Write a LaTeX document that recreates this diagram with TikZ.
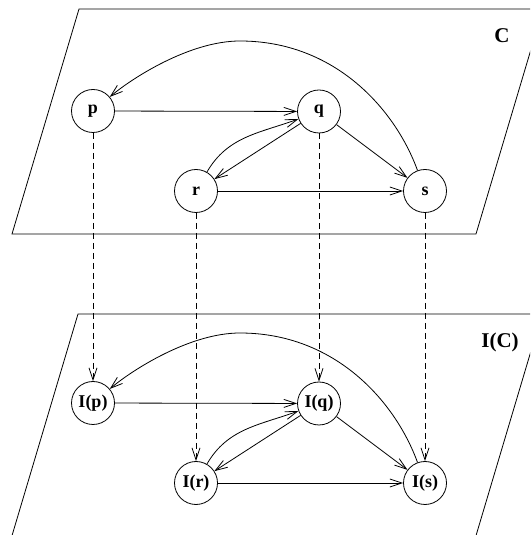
\documentclass[tikz,border=0pt]{standalone}
\usepackage{fontspec}
\setmainfont{Liberation Serif}
\usepackage{tikz}
\usetikzlibrary{arrows.meta}
\tikzset{>={Straight Barb[length=12pt,width=8pt]}}

\begin{document}
\begin{tikzpicture}[x=1pt,y=1pt,line width=0.8pt,
    main/.style = {draw, circle, minimum size=43pt, inner sep=0pt, font=\bfseries\fontsize{18}{20}\selectfont},
    title/.style = {anchor=base, font=\bfseries\fontsize{21}{24}\selectfont},
    link/.style = {->, dashed, dash pattern=on 6pt off 4pt}]
\useasboundingbox (0,0) rectangle (530,535);
\begin{scope}
    \clip (0,0) rectangle (530,535);
    \draw (79,526) -- (543,526) -- (476,301) -- (12,301) -- cycle;
    \draw (78,221) -- (542,221) -- (475,-4) -- (11,-4) -- cycle;
\end{scope}
% upper plane
\node[title] (c) at (502,492.5) {C};
\node[main] (p) at (93,424) {p};
\node[main] (q) at (319,423.5) {q};
\node[main] (r) at (196,344) {r};
\node[main] (s) at (425,344) {s};
\coordinate (top) at (240,494);
\draw[->] (p) -- (q);
\draw[->] (q) -- (r);
\draw[->] (r) to[out=60,in=200] (q);
\draw[->] (q) -- (s);
\draw[->] (r) -- (s);
\draw[->] (s.110) .. controls +(110:65) and +(95,0) .. (top)
    .. controls +(-50,0) and +(40:30) .. (p.40);
% lower plane
\node[title] (ic) at (500,187) {I(C)};
\node[main] (ip) at (93,132) {I(p)};
\node[main] (iq) at (319,131.5) {I(q)};
\node[main] (ir) at (196,52) {I(r)};
\node[main] (is) at (425,52) {I(s)};
\coordinate (itop) at (240,202);
\draw[->] (ip) -- (iq);
\draw[->] (iq) -- (ir);
\draw[->] (ir) to[out=60,in=200] (iq);
\draw[->] (iq) -- (is);
\draw[->] (ir) -- (is);
\draw[->] (is.110) .. controls +(110:65) and +(95,0) .. (itop)
    .. controls +(-50,0) and +(40:30) .. (ip.40);
% between the planes
\draw[link] (p) -- (ip);
\draw[link] (q) -- (iq);
\draw[link] (r) -- (ir);
\draw[link] (s) -- (is);
\end{tikzpicture}
\end{document}
